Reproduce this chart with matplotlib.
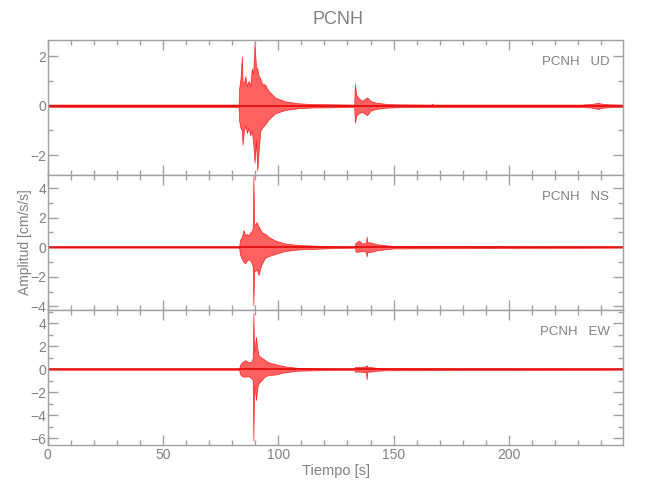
import matplotlib
matplotlib.use("Agg")
import matplotlib.pyplot as plt
from matplotlib.ticker import MultipleLocator

FONT = ['Liberation Sans Narrow', 'DejaVu Sans Condensed', 'Liberation Sans', 'DejaVu Sans']
plt.rcParams['font.family'] = FONT

station = "PCNH"
components = ["UD", "NS", "EW"]
t_end = 249.6

# Envelope of each trace (time [s], upper, lower [cm/s/s])
t_ud = [0, 82.8, 83.0, 83.6, 84.2, 84.5, 85.1, 85.7, 86.4, 87.1, 87.8, 88.5, 89.1, 89.7, 90.3,
        90.9, 91.5, 92.2, 92.9, 94.3, 95.8, 98.7, 103.0, 108.8, 114.7, 132.9, 133.2, 133.8,
        134.9, 136.3, 138.5, 140.0, 142.2, 146.5, 150.9, 166.5, 166.8, 167.1, 231.3, 235.5,
        237.5, 238.6, 239.8, 243.0, 249.6]
up_ud = [0.05, 0.05, 0.7, 1.1, 2.0, 1.0, 0.9, 1.2, 0.8, 1.0, 0.8, 1.5, 1.3, 2.55, 1.6,
         1.5, 1.2, 1.1, 0.9, 0.85, 0.6, 0.33, 0.18, 0.1, 0.07, 0.05, 0.88, 0.45,
         0.3, 0.2, 0.34, 0.2, 0.13, 0.08, 0.06, 0.05, 0.09, 0.05, 0.05, 0.07,
         0.1, 0.13, 0.09, 0.06, 0.05]
lo_ud = [-0.05, -0.05, -0.6, -0.9, -1.0, -1.58, -1.0, -0.8, -1.1, -0.9, -1.2, -1.0, -1.5, -2.3, -1.4,
         -2.63, -1.8, -1.0, -0.9, -0.75, -0.55, -0.3, -0.17, -0.1, -0.07, -0.05, -0.69, -0.4,
         -0.3, -0.25, -0.38, -0.2, -0.13, -0.08, -0.06, -0.05, -0.05, -0.05, -0.05, -0.07,
         -0.1, -0.14, -0.09, -0.06, -0.05]

t_ns = [0, 83.0, 83.4, 84.2, 84.9, 85.7, 86.4, 87.1, 87.8, 88.5, 88.9, 89.2, 89.5, 89.9, 90.6,
        91.5, 92.2, 92.9, 94.3, 95.8, 98.7, 103.0, 108.8, 120.4, 133.2, 133.5, 135.0, 136.4,
        138.0, 138.3, 138.6, 139.3, 142.9, 150.2, 249.6]
up_ns = [0.03, 0.03, 0.5, 0.7, 1.17, 0.8, 0.9, 0.8, 1.0, 1.1, 1.3, 4.85, 1.6, 1.5, 1.7,
         1.4, 1.2, 1.0, 0.9, 0.7, 0.45, 0.25, 0.15, 0.08, 0.03, 0.3, 0.45, 0.25,
         0.3, 0.72, 0.3, 0.35, 0.2, 0.08, 0.03]
lo_ns = [-0.03, -0.03, -0.5, -0.8, -1.0, -1.08, -0.9, -0.8, -0.9, -1.1, -1.3, -3.94, -1.6, -1.6, -1.5,
         -1.87, -1.4, -1.1, -0.7, -0.6, -0.45, -0.25, -0.15, -0.08, -0.03, -0.3, -0.3, -0.25,
         -0.3, -0.63, -0.3, -0.35, -0.2, -0.08, -0.03]

t_ew = [0, 83.0, 83.4, 84.2, 85.7, 87.1, 88.5, 88.9, 89.2, 89.5, 89.9, 90.3, 90.9, 91.5, 92.9,
        94.3, 95.8, 98.7, 103.0, 108.8, 120.4, 132.9, 133.2, 135.6, 137.1, 138.0, 138.3,
        138.6, 140.0, 142.9, 147.3, 249.6]
up_ew = [0.04, 0.04, 0.4, 0.6, 0.8, 0.6, 0.7, 1.0, 4.9, 1.5, 2.0, 2.84, 1.8, 1.2, 1.0,
         0.8, 0.6, 0.45, 0.25, 0.12, 0.06, 0.04, 0.2, 0.2, 0.25, 0.25, 0.38, 0.2,
         0.2, 0.12, 0.08, 0.04]
lo_ew = [-0.04, -0.04, -0.4, -0.6, -0.64, -0.6, -0.8, -1.0, -6.2, -1.5, -1.8, -2.67, -1.6, -1.2, -0.9,
         -0.6, -0.5, -0.45, -0.25, -0.12, -0.06, -0.04, -0.2, -0.2, -0.25, -0.25, -0.87, -0.2,
         -0.2, -0.12, -0.08, -0.04]

ylims = [(-2.8, 2.66), (-4.24, 4.88), (-6.58, 5.16)]

traces = [(t_ud, up_ud, lo_ud), (t_ns, up_ns, lo_ns), (t_ew, up_ew, lo_ew)]

gray = '#a0a0a0'
tgray = '#808080'

fig = plt.figure(figsize=(6.5, 5.0), dpi=100)
left, width = 47.7 / 650, 575.6 / 650
h = 135 / 500
bottoms = [(500 - 175) / 500, (500 - 310) / 500, (500 - 445) / 500]

for i, (comp, (tt, up, lo), yl, b) in enumerate(zip(components, traces, ylims, bottoms)):
    ax = fig.add_axes([left, b, width, h])
    ax.fill_between(tt, lo, up, facecolor='#ff3a3a', alpha=0.8, lw=0.5, edgecolor='red')
    ax.plot([0, t_end], [0, 0], color='#e00000', lw=1.1)
    ax.set_xlim(0, t_end)
    ax.set_ylim(*yl)
    for s in ax.spines.values():
        s.set_color(gray)
        s.set_linewidth(1.0)
    ax.xaxis.set_major_locator(MultipleLocator(50))
    ax.xaxis.set_minor_locator(MultipleLocator(10))
    ax.yaxis.set_major_locator(MultipleLocator(2))
    ax.yaxis.set_minor_locator(MultipleLocator(1))
    ax.tick_params(which='both', direction='in', top=True, right=True, color=gray,
                   labelcolor=tgray, labelsize=10, width=1.0)
    ax.tick_params(which='major', length=7, pad=2)
    ax.tick_params(which='minor', length=3.6)
    ax.tick_params(axis='y', which='major', pad=1)
    if i < 2:
        ax.tick_params(labelbottom=False)
    ax.text(0.976, 0.84, f"{station}   {comp}", transform=ax.transAxes, ha='right',
            va='center', color=tgray, fontsize=9.5)

fig.text(0.52, 0.96, station, ha='center', va='center', color=tgray, fontsize=13)
fig.text(0.038, 0.516, "Amplitud [cm/s/s]", rotation=90, ha='center', va='center',
         color=tgray, fontsize=10)
fig.text(0.517, 0.058, "Tiempo [s]", ha='center', va='center', color=tgray, fontsize=10.5)

fig.savefig("out.png", dpi=100)
